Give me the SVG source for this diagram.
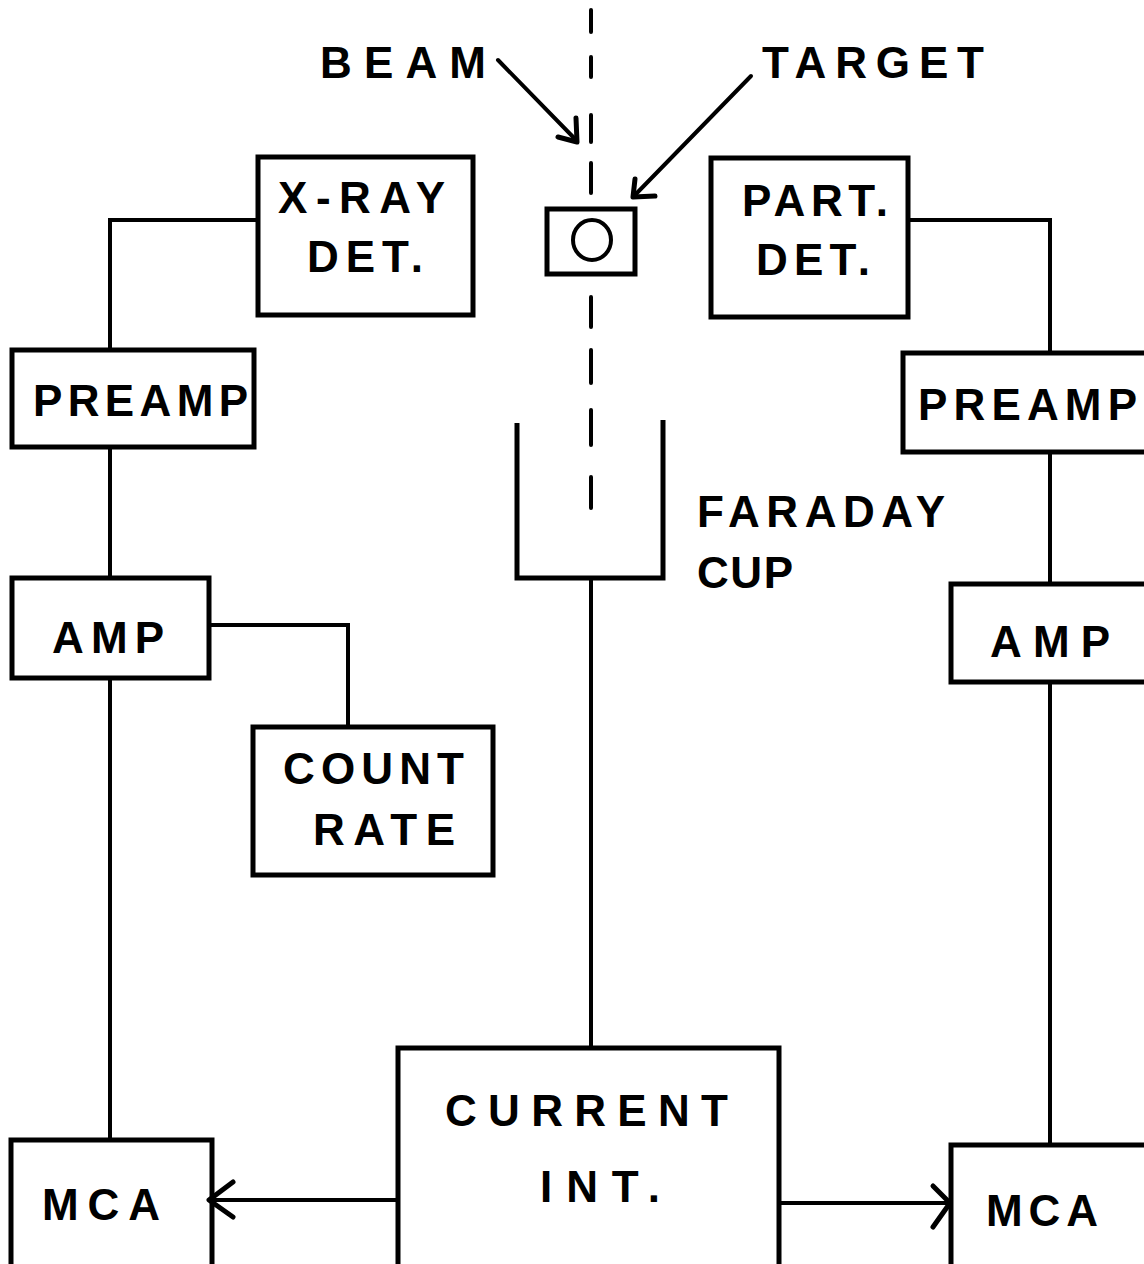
<svg xmlns="http://www.w3.org/2000/svg" width="1144" height="1264" viewBox="0 0 1144 1264">
<style>
.box{fill:none;stroke:#000;stroke-width:5;stroke-linejoin:miter}
.ln{fill:none;stroke:#000;stroke-width:4;stroke-linecap:round;stroke-linejoin:miter}
.ah{fill:none;stroke:#000;stroke-width:5;stroke-linecap:round;stroke-linejoin:round}
text{font-family:"Liberation Sans",Arial,sans-serif;font-size:44px;font-weight:bold;fill:#000}
</style>
<rect width="1144" height="1264" fill="#fff"/>
<g id="beam-axis">
<path class="ln" stroke-width="5" d="M591 10V32M591 57V77M591 115V142M591 163V193M591 297V327M591 350V383M591 410V445M591 477V508"/>
</g>
<g id="beam-label">
<text x="320" y="78" textLength="166" lengthAdjust="spacing">BEAM</text>
<path class="ln" d="M498 60L577 141"/>
<path class="ah" d="M576 118L577 142L558 137"/>
</g>
<g id="target-label">
<text x="762" y="78" textLength="222" lengthAdjust="spacing">TARGET</text>
<path class="ln" d="M751 76L634 196"/>
<path class="ah" d="M635 179L633 197L655 196"/>
</g>
<g id="target">
<rect class="box" x="547" y="209" width="88" height="65"/>
<ellipse cx="592" cy="240" rx="19" ry="20" fill="none" stroke="#000" stroke-width="4"/>
</g>
<g id="xray-det">
<rect class="box" x="258" y="157" width="215" height="158"/>
<text x="278" y="213" textLength="167" lengthAdjust="spacing">X-RAY</text>
<text x="307" y="272" textLength="116" lengthAdjust="spacing">DET.</text>
</g>
<g id="part-det">
<rect class="box" x="711" y="158" width="197" height="159"/>
<text x="742" y="216" textLength="146" lengthAdjust="spacing">PART.</text>
<text x="756" y="275" textLength="114" lengthAdjust="spacing">DET.</text>
</g>
<g id="preamp-left">
<rect class="box" x="12" y="350" width="242" height="97"/>
<text x="33" y="416" textLength="215" lengthAdjust="spacing">PREAMP</text>
</g>
<g id="preamp-right">
<rect class="box" x="903" y="353" width="245" height="99"/>
<text x="918" y="420" textLength="219" lengthAdjust="spacing">PREAMP</text>
</g>
<g id="amp-left">
<rect class="box" x="12" y="578" width="197" height="100"/>
<text x="52" y="653" textLength="112" lengthAdjust="spacing">AMP</text>
</g>
<g id="amp-right">
<rect class="box" x="951" y="584" width="197" height="98"/>
<text x="990" y="657" textLength="120" lengthAdjust="spacing">AMP</text>
</g>
<g id="count-rate">
<rect class="box" x="253" y="727" width="240" height="148"/>
<text x="283" y="784" textLength="181" lengthAdjust="spacing">COUNT</text>
<text x="313" y="845" textLength="142" lengthAdjust="spacing">RATE</text>
</g>
<g id="faraday-cup">
<path class="box" d="M517 423V578H663V420"/>
<text x="697" y="527" textLength="248" lengthAdjust="spacing">FARADAY</text>
<text x="697" y="588" textLength="96" lengthAdjust="spacing">CUP</text>
</g>
<g id="current-int">
<rect class="box" x="398" y="1048" width="381" height="220"/>
<text x="445" y="1126" textLength="283" lengthAdjust="spacing">CURRENT</text>
<text x="540" y="1202" textLength="120" lengthAdjust="spacing">INT.</text>
</g>
<g id="mca-left">
<rect class="box" x="11" y="1140" width="201" height="128"/>
<text x="42" y="1220" textLength="118" lengthAdjust="spacing">MCA</text>
</g>
<g id="mca-right">
<rect class="box" x="951" y="1145" width="197" height="123"/>
<text x="986" y="1226" textLength="112" lengthAdjust="spacing">MCA</text>
</g>
<g id="connectors">
<path class="ln" d="M258 220H110V350"/>
<path class="ln" d="M110 447V578"/>
<path class="ln" d="M209 625H348V727"/>
<path class="ln" d="M110 678V1140"/>
<path class="ln" d="M908 220H1050V353"/>
<path class="ln" d="M1050 452V584"/>
<path class="ln" d="M1050 682V1145"/>
<path class="ln" d="M591 578V1048"/>
<path class="ln" d="M398 1200H210"/>
<path class="ah" d="M233 1182L209 1200L233 1217"/>
<path class="ln" d="M779 1203H949"/>
<path class="ah" d="M933 1186L950 1203L933 1227"/>
</g>
</svg>
